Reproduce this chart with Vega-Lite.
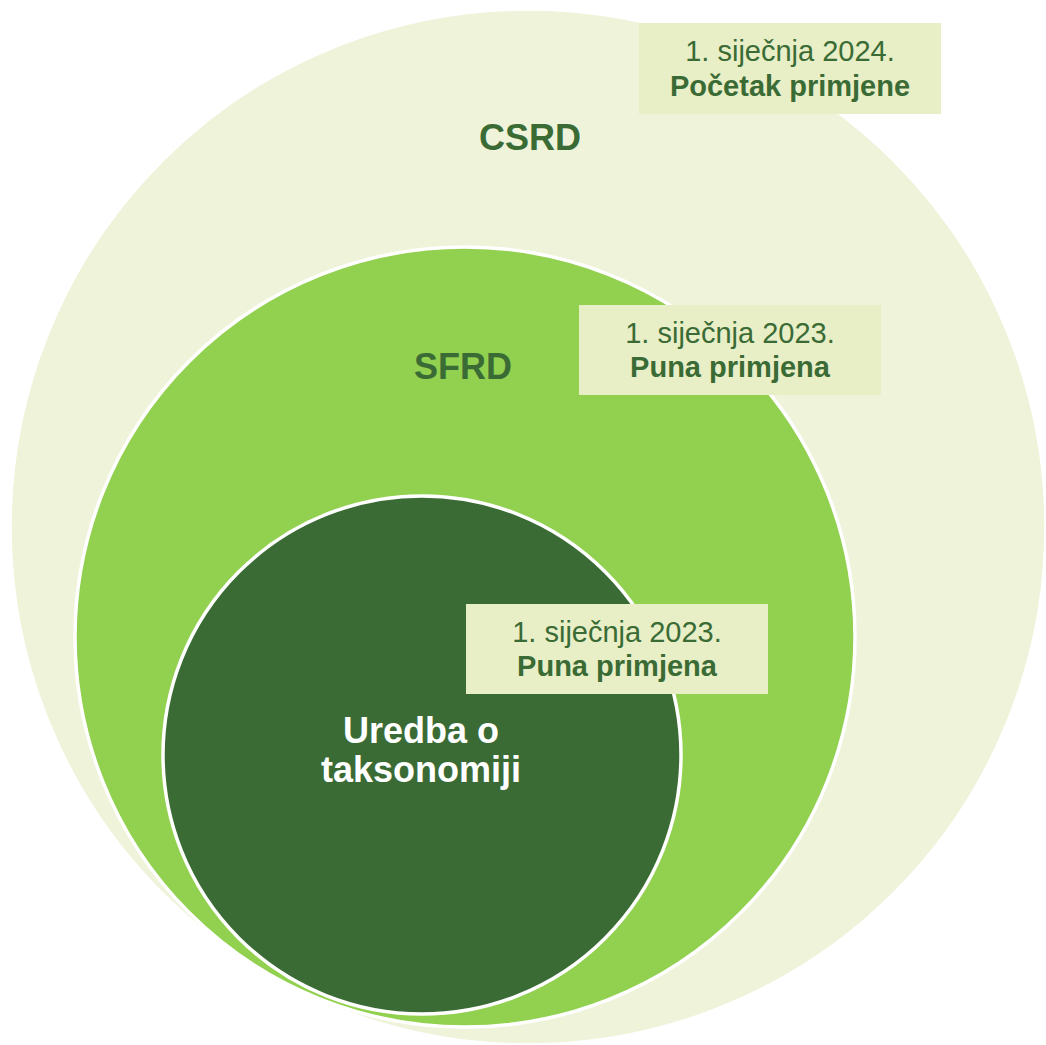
{
  "$schema": "https://vega.github.io/schema/vega-lite/v6.json",
  "width": 1046,
  "height": 1045,
  "padding": 0,
  "autosize": {"type": "none"},
  "background": "white",
  "config": {"view": {"stroke": null}},
  "datasets": {
    "circles": [
      {"circle": "CSRD", "rank": 1, "cx": 528, "cy": 527, "d": 1036},
      {"circle": "SFRD", "rank": 2, "cx": 465, "cy": 637, "d": 780},
      {"circle": "Taksonomija", "rank": 3, "cx": 422, "cy": 755, "d": 518}
    ],
    "boxes": [
      {"circle": "CSRD", "x0": 639, "x1": 941, "y0": 23, "y1": 114},
      {"circle": "SFRD", "x0": 579, "x1": 881, "y0": 305, "y1": 395},
      {"circle": "Taksonomija", "x0": 466, "x1": 768, "y0": 604, "y1": 694}
    ],
    "labels": [
      {"circle": "CSRD", "kind": "title", "x": 530, "y": 150, "text": "CSRD"},
      {"circle": "SFRD", "kind": "title", "x": 463, "y": 379, "text": "SFRD"},
      {"circle": "Taksonomija", "kind": "title", "x": 421, "y": 743, "text": "Uredba o"},
      {"circle": "Taksonomija", "kind": "title", "x": 421, "y": 782, "text": "taksonomiji"},
      {"circle": "CSRD", "kind": "date", "x": 790, "y": 61, "text": "1. siječnja 2024."},
      {"circle": "CSRD", "kind": "status", "x": 790, "y": 96, "text": "Početak primjene"},
      {"circle": "SFRD", "kind": "date", "x": 730, "y": 343, "text": "1. siječnja 2023."},
      {"circle": "SFRD", "kind": "status", "x": 730, "y": 377, "text": "Puna primjena"},
      {"circle": "Taksonomija", "kind": "date", "x": 617, "y": 642, "text": "1. siječnja 2023."},
      {"circle": "Taksonomija", "kind": "status", "x": 617, "y": 676, "text": "Puna primjena"}
    ]
  },
  "layer": [
    {
      "data": {"name": "circles"},
      "mark": {"type": "point", "shape": "circle", "filled": true, "opacity": 1, "stroke": "white", "strokeWidth": 3.5},
      "encoding": {
        "x": {"field": "cx", "type": "quantitative", "scale": {"domain": [0, 1046], "nice": false, "zero": false}, "axis": null},
        "y": {"field": "cy", "type": "quantitative", "scale": {"domain": [0, 1045], "nice": false, "zero": false, "reverse": true}, "axis": null},
        "size": {"field": "d", "type": "quantitative", "scale": {"type": "pow", "exponent": 2, "domain": [0, 1000], "range": [0, 1000000]}, "legend": null},
        "fill": {"field": "circle", "type": "nominal", "scale": {"domain": ["CSRD", "SFRD", "Taksonomija"], "range": ["#eef3da", "#92d050", "#3a6b35"]}, "legend": null},
        "order": {"field": "rank", "type": "quantitative"}
      }
    },
    {
      "data": {"name": "boxes"},
      "mark": {"type": "rect", "fill": "#e8eec6"},
      "encoding": {
        "x": {"field": "x0", "type": "quantitative"},
        "x2": {"field": "x1"},
        "y": {"field": "y0", "type": "quantitative"},
        "y2": {"field": "y1"}
      }
    },
    {
      "data": {"name": "labels"},
      "transform": [{"filter": "datum.kind === 'title'"}],
      "mark": {"type": "text", "font": "Liberation Sans", "fontSize": 36, "fontWeight": "bold", "align": "center", "baseline": "alphabetic"},
      "encoding": {
        "x": {"field": "x", "type": "quantitative"},
        "y": {"field": "y", "type": "quantitative"},
        "text": {"field": "text"},
        "color": {"condition": {"test": "datum.circle === 'Taksonomija'", "value": "white"}, "value": "#3a6b35"}
      }
    },
    {
      "data": {"name": "labels"},
      "transform": [{"filter": "datum.kind === 'date'"}],
      "mark": {"type": "text", "font": "Liberation Sans", "fontSize": 29, "fontWeight": "normal", "align": "center", "baseline": "alphabetic", "color": "#3a6b35"},
      "encoding": {
        "x": {"field": "x", "type": "quantitative"},
        "y": {"field": "y", "type": "quantitative"},
        "text": {"field": "text"}
      }
    },
    {
      "data": {"name": "labels"},
      "transform": [{"filter": "datum.kind === 'status'"}],
      "mark": {"type": "text", "font": "Liberation Sans", "fontSize": 29, "fontWeight": "bold", "align": "center", "baseline": "alphabetic", "color": "#3a6b35"},
      "encoding": {
        "x": {"field": "x", "type": "quantitative"},
        "y": {"field": "y", "type": "quantitative"},
        "text": {"field": "text"}
      }
    }
  ]
}
